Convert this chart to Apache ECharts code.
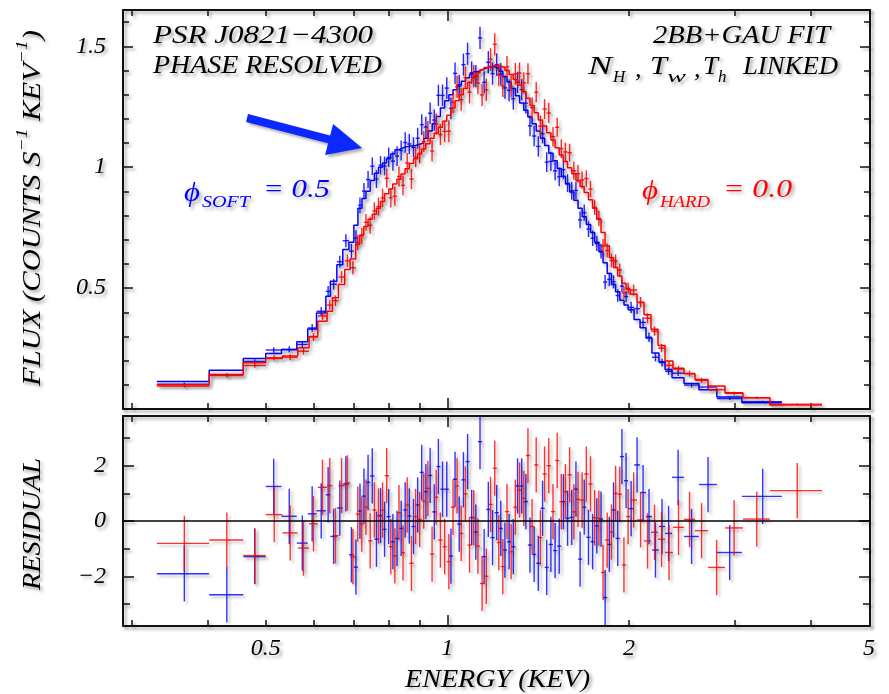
<!DOCTYPE html>
<html><head><meta charset="utf-8">
<script src="https://cdn.jsdelivr.net/npm/echarts@6/dist/echarts.min.js"></script>
<style>html,body{margin:0;padding:0;background:#fff}#c{width:889px;height:694px}</style>
</head><body><div id="c"></div><script>
// ---------------- data ----------------
const blueEdges = [0.330,0.403,0.459,0.500,0.531,0.563,0.587,0.607,0.629,0.640,0.656,0.671,0.687,
0.700,0.711,0.722,0.733,0.745,0.757,0.769,0.781,0.793,0.806,0.819,0.832,0.845,0.858,0.872,0.886,0.900,0.914,0.929,0.944,0.959,0.974,0.990,1.006,1.022,1.038,1.055,1.072,1.089,1.106,1.124,1.142,1.160,1.179,1.198,1.217,1.236,1.256,1.276,1.297,1.318,1.339,1.360,1.382,1.404,1.427,1.450,1.473,1.497,1.521,1.545,1.570,1.595,1.621,1.647,1.673,1.700,1.728,1.755,1.784,1.812,1.841,1.871,1.901,1.932,1.963,1.994,
2.040,2.087,2.135,2.184,2.243,2.296,2.358,2.468,2.613,2.798,3.079,3.586];
const blueModel = [0.114,0.160,0.209,0.230,0.245,0.278,0.331,0.397,0.466,0.528,0.597,0.660,0.690,
0.76,0.83,0.87,0.90,0.945,0.975,1.00,1.017,1.035,1.055,
1.072,1.08,1.085,1.088,1.09,1.095,1.10,1.12,1.15,1.18,
1.21,1.245,1.275,1.30,1.32,1.34,1.355,1.37,1.385,1.395,
1.403,1.41,1.415,1.415,1.41,1.397,1.375,1.352,1.325,1.295,
1.265,1.235,1.208,1.18,1.15,1.12,1.09,1.058,1.027,0.995,
0.963,0.93,0.897,0.863,0.83,0.795,0.763,0.73,0.69,0.65,
0.605,0.56,0.515,0.485,0.45,0.43,
0.41,0.37,0.336,0.294,0.232,0.195,0.163,0.129,0.105,0.08,0.05,0.026];
const blueFlux = [0.103,0.141,0.197,0.244,0.247,0.267,0.335,0.404,0.487,0.516,0.609,0.696,0.653,
0.707,0.842,0.901,0.949,1.004,0.951,1.008,1.005,1.041,1.025,
1.046,1.069,1.102,1.096,1.082,1.120,1.176,1.166,1.223,1.195,
1.297,1.297,1.327,1.243,1.388,1.335,1.424,1.469,1.391,1.377,
1.535,1.351,1.434,1.387,1.424,1.385,1.328,1.318,1.283,1.351,
1.321,1.265,1.171,1.129,1.086,1.139,1.021,1.024,0.985,0.960,
0.990,0.934,0.902,0.904,0.782,0.812,0.744,0.706,0.684,0.652,
0.525,0.536,0.526,0.469,0.508,0.465,
0.420,0.415,0.358,0.297,0.214,0.192,0.156,0.148,0.099,0.091,0.043,0.030];
const blueErr = [0.006,0.007,0.009,0.011,0.012,0.014,0.016,0.018,0.022,0.022,0.025,0.027,0.030,
0.032,0.033,0.034,0.035,0.036,0.037,0.038,0.039,0.040,0.040,
0.041,0.041,0.042,0.042,0.042,0.043,0.043,0.043,0.044,0.044,
0.044,0.045,0.045,0.045,0.045,0.046,0.046,0.046,0.046,0.046,
0.046,0.046,0.046,0.046,0.046,0.046,0.045,0.045,0.045,0.044,
0.044,0.043,0.043,0.042,0.042,0.041,0.041,0.040,0.039,0.039,
0.038,0.037,0.037,0.036,0.035,0.034,0.033,0.032,0.031,0.030,
0.029,0.028,0.027,0.026,0.025,0.024,
0.023,0.022,0.021,0.019,0.017,0.016,0.015,0.012,0.010,0.008,0.006,0.004];
const blueResid = [-1.91,-2.67,-1.29,1.25,0.17,-0.80,0.26,0.37,0.95,-0.56,0.47,1.34,-1.22,
-1.67,0.36,0.90,1.40,1.63,-0.66,0.20,-0.30,0.16,-0.75,
-0.63,-0.27,0.40,0.18,-0.20,0.58,1.76,1.06,1.65,0.33,
1.97,1.15,1.15,-1.27,1.51,-0.11,1.49,2.15,0.13,-0.40,
2.87,-1.29,0.42,-0.60,0.30,-0.27,-1.05,-0.75,-0.93,1.27,
1.27,0.70,-0.87,-1.21,-1.53,0.46,-1.68,-0.85,-1.07,-0.91,
0.70,0.10,0.13,1.15,-1.38,0.50,-0.59,-0.75,-0.18,0.07,
-2.77,-0.85,0.40,-0.63,2.33,1.46,
0.45,2.03,1.03,0.16,-1.05,-0.20,-0.45,1.58,-0.56,1.32,-1.14,0.89];

const redEdges = [0.330,0.403,0.459,0.500,0.533,0.565,0.590,0.610,0.632,0.645,0.660,0.676,0.690,
0.705,0.716,0.727,0.739,0.751,0.763,0.775,0.787,0.800,0.812,0.825,0.838,0.851,0.865,0.879,0.893,0.907,0.921,0.936,0.951,0.966,0.982,0.998,1.014,1.030,1.046,1.063,1.080,1.097,1.115,1.133,1.151,1.170,1.189,1.208,1.226,1.246,1.266,1.286,1.307,1.328,1.350,1.371,1.393,1.415,1.438,1.461,1.485,1.509,1.533,1.557,1.582,1.608,1.634,1.660,1.686,1.714,1.741,1.769,1.798,1.826,1.856,1.886,1.916,1.947,1.978,2.010,
2.063,2.119,2.176,2.235,2.296,2.366,2.468,2.574,2.705,2.886,3.091,3.426,4.179];
const redModel = [0.100,0.143,0.191,0.209,0.219,0.253,0.300,0.363,0.404,0.460,0.515,0.577,0.620,
0.68,0.72,0.755,0.785,0.805,0.83,0.858,0.89,0.91,0.93,
0.95,0.972,0.993,1.015,1.035,1.055,1.075,1.097,1.12,1.14,
1.165,1.19,1.215,1.245,1.275,1.30,1.325,1.35,1.37,1.39,
1.403,1.412,1.418,1.42,1.418,1.412,1.40,1.383,1.363,1.34,
1.313,1.285,1.255,1.225,1.195,1.17,1.142,1.112,1.08,1.05,
1.023,0.998,0.973,0.945,0.92,0.895,0.865,0.83,0.785,0.73,
0.675,0.625,0.585,0.55,0.52,0.495,
0.475,0.44,0.39,0.33,0.263,0.198,0.168,0.146,0.122,0.095,0.067,0.047,0.017];
const redFlux = [0.095,0.138,0.180,0.212,0.214,0.239,0.298,0.385,0.430,0.448,0.546,0.613,0.584,
0.688,0.716,0.772,0.760,0.819,0.837,0.873,0.954,0.873,0.880,
0.962,0.925,1.017,0.951,1.042,1.058,1.106,1.148,1.067,1.178,
1.135,1.148,1.149,1.268,1.332,1.279,1.370,1.310,1.376,1.348,
1.299,1.320,1.446,1.508,1.382,1.336,1.415,1.333,1.386,1.389,
1.349,1.387,1.246,1.310,1.170,1.240,1.224,1.126,1.165,1.077,
1.063,1.060,0.985,0.973,0.947,0.953,0.909,0.834,0.788,0.674,
0.655,0.614,0.612,0.575,0.480,0.499,
0.492,0.441,0.375,0.322,0.252,0.180,0.165,0.147,0.118,0.080,0.065,0.047,0.020];
const redErr = [0.006,0.007,0.009,0.011,0.012,0.014,0.016,0.018,0.020,0.022,0.024,0.026,0.028,
0.032,0.033,0.034,0.035,0.036,0.037,0.038,0.039,0.040,0.040,
0.041,0.041,0.042,0.042,0.042,0.043,0.043,0.043,0.044,0.044,
0.044,0.045,0.045,0.045,0.045,0.046,0.046,0.046,0.046,0.046,
0.046,0.046,0.046,0.046,0.046,0.046,0.045,0.045,0.045,0.044,
0.044,0.043,0.043,0.042,0.042,0.041,0.041,0.040,0.039,0.039,
0.038,0.037,0.037,0.036,0.035,0.034,0.033,0.032,0.031,0.030,
0.029,0.028,0.027,0.026,0.025,0.024,
0.023,0.022,0.021,0.019,0.017,0.016,0.014,0.012,0.011,0.009,0.007,0.005,0.003];
const redResid = [-0.81,-0.69,-1.25,0.23,-0.43,-0.98,-0.10,1.22,1.28,-0.53,1.28,1.38,-1.29,
0.25,-0.11,0.50,-0.72,0.40,0.18,0.40,1.64,-0.93,-1.26,
0.30,-1.15,0.58,-1.53,0.16,0.06,0.72,1.18,-1.20,0.86,
-0.69,-0.93,-1.47,0.50,1.27,-0.45,0.98,-0.87,0.12,-0.91,
-2.26,-2.00,0.60,1.91,-0.78,-1.65,0.34,-1.11,0.50,1.12,
0.82,2.37,-0.20,2.03,-0.60,1.70,2.00,0.34,2.19,0.70,
1.06,1.67,0.33,0.78,0.76,1.70,1.34,0.12,0.10,-1.86,
-0.69,-0.40,1.00,0.97,-1.59,0.16,
0.76,0.04,-0.72,-0.41,-0.66,-1.14,-0.23,0.06,-0.35,-1.68,-0.25,0.07,1.10];
const residErr = 1;

const xMinorTicks = [0.3,0.4,0.5,0.6,0.7,0.8,0.9,2,3,4];
const xMajorTicks = [1];
const xTickLabels = [0.5,1,2,5];
const fluxMajorTicks = [0.5,1,1.5];
const fluxMinorTicks = [0.1,0.2,0.3,0.4,0.6,0.7,0.8,0.9,1.1,1.2,1.3,1.4,1.6];
const residMajorTicks = [-2,0,2];
const residMinorTicks = [-3,-1,1,3];

// ---------------- style ----------------
const XMIN = 0.29, XMAX = 5.02, FMIN = 0, FMAX = 1.65, RMIN = -3.8, RMAX = 3.8;
const BLUE = '#0000ff', RED = '#ff0000';
const FONT = '"Liberation Serif", "DejaVu Serif", serif';
const SH = {shadowColor:'rgba(0,0,0,0.32)', shadowBlur:3, shadowOffsetX:2.5, shadowOffsetY:2.5};
const TSH = {textShadowColor:'rgba(0,0,0,0.35)', textShadowBlur:3.5, textShadowOffsetX:2.5, textShadowOffsetY:2.5};
const labelStyle = Object.assign({color:'#000', fontFamily:'Liberation Serif', fontStyle:'italic', fontSize:24}, TSH);

function stepData(edges, model){
  const out = [];
  for (let i = 0; i < model.length; i++) out.push([edges[i], model[i]]);
  out.push([edges[model.length], model[model.length-1]]);
  return out;
}
function crossData(edges, vals, errs){
  return vals.map((v,i) => [edges[i], edges[i+1], v, Array.isArray(errs) ? errs[i] : errs]);
}
function makeCross(color, width, opacity){
  return function(params, api){
    const lo = api.value(0), hi = api.value(1), y = api.value(2), e = api.value(3);
    const xc = (lo + hi) / 2;
    const a = api.coord([lo, y]), b = api.coord([hi, y]);
    const t = api.coord([xc, y + e]), u = api.coord([xc, y - e]);
    const st = Object.assign({stroke: color, lineWidth: width, opacity: opacity}, SH);
    return {type:'group', children:[
      {type:'line', shape:{x1:a[0], y1:a[1], x2:b[0], y2:b[1]}, style:st},
      {type:'line', shape:{x1:t[0], y1:t[1], x2:u[0], y2:u[1]}, style:st}
    ]};
  };
}
const frameLine = {show:true, onZero:false, lineStyle:Object.assign({color:'#111', width:2}, SH)};
function xAx(grid, pos, ticks, len, line, labels){
  return {type:'log', logBase:10, gridIndex:grid, position:pos, min:XMIN, max:XMAX,
    axisLine: line ? frameLine : {show:false, onZero:false},
    axisTick:{show:true, inside:true, length:len, customValues:ticks, lineStyle:Object.assign({color:'#111', width:1.5}, SH)},
    axisLabel: labels ? Object.assign({show:true, customValues:labels, margin:11,
      formatter: v => String(Math.round(v*100)/100)}, labelStyle) : {show:false},
    splitLine:{show:false}, minorTick:{show:false}, minorSplitLine:{show:false}};
}
function yAx(grid, pos, min, max, ticks, len, line, labels){
  return {type:'value', gridIndex:grid, position:pos, min:min, max:max,
    axisLine: line ? frameLine : {show:false, onZero:false},
    axisTick:{show:true, inside:true, length:len, customValues:ticks, lineStyle:Object.assign({color:'#111', width:1.5}, SH)},
    axisLabel: labels ? Object.assign({show:true, customValues:labels, margin:17,
      formatter: v => String(Math.round(v*10)/10).replace('-', '\u2212')}, labelStyle) : {show:false},
    splitLine:{show:false}, minorTick:{show:false}};
}

// ---------------- annotations ----------------
const ctx = document.createElement('canvas').getContext('2d');
function measure(t, size){ ctx.font = 'italic ' + size + 'px ' + FONT; return ctx.measureText(t).width; }
function txt(t, x, y, size, color, width, align, rot){
  const w = measure(t, size);
  const s = width ? width / w : 1;
  return {type:'text', x:x, y:y, rotation:rot || 0, scaleX:s, z:100, silent:true,
    style:Object.assign({text:t, font:'italic ' + size + 'px ' + FONT, fill:color,
      align:align || 'left', verticalAlign:'middle', textAlign:align || 'left', textVerticalAlign:'middle'}, TSH)};
}
function rotTitle(pieces, xc, yStart, len){
  const ws = pieces.map(p => measure(p.t, p.size));
  const total = ws.reduce((a,b) => a + b, 0);
  const s = len / total;
  let acc = 0; const out = [];
  pieces.forEach((p, i) => {
    const el = txt(p.t, xc + (p.dx || 0), yStart - acc * s, p.size, '#000', null, 'left', Math.PI / 2);
    el.scaleX = s;
    out.push(el);
    acc += ws[i];
  });
  return out;
}
const graphics = [].concat(
  [txt('PSR J0821\u22124300', 153, 36.5, 26, '#000', 220),
   txt('PHASE RESOLVED', 153, 66.5, 26, '#000', 229),
   txt('2BB+GAU FIT', 830, 36, 26, '#000', 177, 'right'),
   txt('N', 588, 67, 26, '#000', 24),
   txt('H', 613, 78, 17, '#000'),
   txt(',', 635, 70, 26, '#000'),
   txt('T', 650, 67, 26, '#000', 17),
   txt('w', 667, 78, 17, '#000', 19),
   txt(',', 694, 70, 26, '#000'),
   txt('T', 703, 67, 26, '#000', 15),
   txt('h', 718, 78, 17, '#000'),
   txt('LINKED', 743, 67, 26, '#000', 95),
   txt('\u03D5', 184, 194, 28, BLUE, 16),
   txt('SOFT', 202, 203, 17, BLUE, 48),
   txt('= 0.5', 263, 190, 26, BLUE, 67),
   txt('\u03D5', 642, 192, 28, RED, 16),
   txt('HARD', 660, 203, 17, RED, 50),
   txt('= 0.0', 723, 190, 26, RED, 69),
   txt('ENERGY (KEV)', 405, 680, 25, '#000', 185)],
  rotTitle([{t:'FLUX (COUNTS S', size:25}, {t:'\u22121', size:16, dx:-10}, {t:' KEV', size:25},
            {t:'\u22121', size:16, dx:-10}, {t:')', size:25}], 33, 386, 356),
  rotTitle([{t:'RESIDUAL', size:25}], 33, 590, 132),
  [{type:'polygon', z:100, silent:true,
    shape:{points:[[248,114.1],[330.1,135.5],[333.1,123.9],[362,148],[325.1,154.9],[328.1,143.3],[246,121.9]]},
    style:Object.assign({fill:'#0a28ff'}, SH)}]
);

// ---------------- chart ----------------
const chart = echarts.init(document.getElementById('c'), null, {renderer:'canvas'});
chart.setOption({
  animation:false,
  backgroundColor:'#fff',
  grid:[{left:123, top:10, width:747, height:399}, {left:123, top:416, width:747, height:210}],
  xAxis:[
    xAx(0,'bottom',xMinorTicks,6,true,null), xAx(0,'bottom',xMajorTicks,11,false,null),
    xAx(0,'top',xMinorTicks,6,true,null), xAx(0,'top',xMajorTicks,11,false,null),
    xAx(1,'bottom',xMinorTicks,6,true,xTickLabels), xAx(1,'bottom',xMajorTicks,11,false,null),
    xAx(1,'top',xMinorTicks,6,true,null), xAx(1,'top',xMajorTicks,11,false,null)
  ],
  yAxis:[
    yAx(0,'left',FMIN,FMAX,fluxMajorTicks,10,true,fluxMajorTicks), yAx(0,'left',FMIN,FMAX,fluxMinorTicks,6,false,null),
    yAx(0,'right',FMIN,FMAX,fluxMajorTicks,10,true,null), yAx(0,'right',FMIN,FMAX,fluxMinorTicks,6,false,null),
    yAx(1,'left',RMIN,RMAX,residMajorTicks,11,true,residMajorTicks), yAx(1,'left',RMIN,RMAX,residMinorTicks,7,false,null),
    yAx(1,'right',RMIN,RMAX,residMajorTicks,11,true,null), yAx(1,'right',RMIN,RMAX,residMinorTicks,7,false,null)
  ],
  series:[
    {type:'line', xAxisIndex:0, yAxisIndex:0, data:stepData(blueEdges, blueModel), step:'end',
     symbol:'none', showSymbol:false, lineStyle:Object.assign({color:BLUE, width:1.5}, SH), z:3},
    {type:'custom', xAxisIndex:0, yAxisIndex:0, data:crossData(blueEdges, blueFlux, blueErr),
     dimensions:['lo','hi','v','e'], encode:{x:0, y:2}, renderItem:makeCross(BLUE,1.4,0.85), clip:true, z:3},
    {type:'line', xAxisIndex:0, yAxisIndex:0, data:stepData(redEdges, redModel), step:'end',
     symbol:'none', showSymbol:false, lineStyle:Object.assign({color:RED, width:1.5}, SH), z:4},
    {type:'custom', xAxisIndex:0, yAxisIndex:0, data:crossData(redEdges, redFlux, redErr),
     dimensions:['lo','hi','v','e'], encode:{x:0, y:2}, renderItem:makeCross(RED,1.4,0.85), clip:true, z:4},
    {type:'custom', xAxisIndex:4, yAxisIndex:4, data:crossData(blueEdges, blueResid, residErr),
     dimensions:['lo','hi','v','e'], encode:{x:0, y:2}, renderItem:makeCross(BLUE,1.4,0.8), clip:true, z:3},
    {type:'custom', xAxisIndex:4, yAxisIndex:4, data:crossData(redEdges, redResid, residErr),
     dimensions:['lo','hi','v','e'], encode:{x:0, y:2}, renderItem:makeCross(RED,1.4,0.8), clip:true, z:4,
     markLine:{silent:true, symbol:'none', label:{show:false}, z:10,
       lineStyle:{color:'#000', width:1.5, type:'solid'}, data:[{yAxis:0}]}}
  ],
  graphic:graphics
});
</script></body></html>
